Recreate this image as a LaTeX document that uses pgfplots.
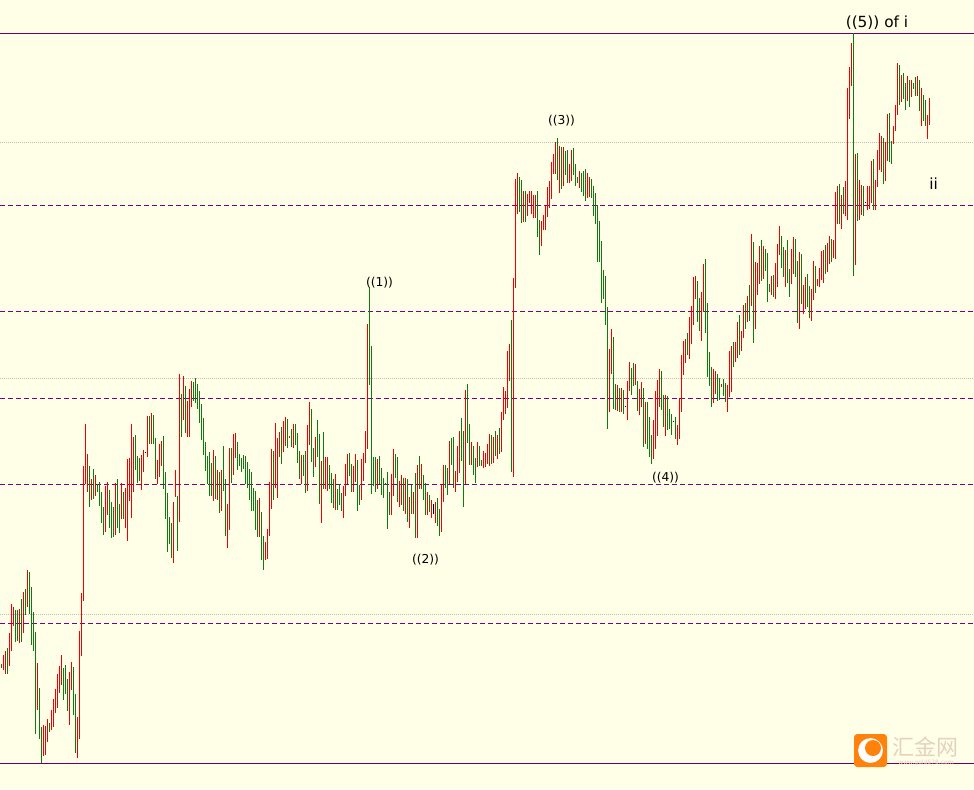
\documentclass[border=0pt]{standalone}
\usepackage{fontspec}
\setmainfont{DejaVu Sans}
\newfontfamily\cjk{Noto Sans CJK SC}
\usepackage{pgfplots}
\usepackage{pgfplotstable}
\pgfplotsset{compat=1.18}
\definecolor{chartbg}{RGB}{255,255,232}
\definecolor{upbar}{RGB}{238,0,0}
\definecolor{downbar}{RGB}{16,120,16}
\definecolor{levelline}{RGB}{128,0,128}
\definecolor{rangeline}{RGB}{110,0,100}
\definecolor{dotline}{RGB}{190,190,180}
\definecolor{logoorange}{RGB}{255,130,12}
\definecolor{logotext}{RGB}{226,210,190}
% x hi lo c, in picture pixels; c: 1 red, 2 green, 3 black
\pgfplotstableread[row sep=\\]{
x hi lo c\\
1.5 664 668 2\\ 3.5 655 670 1\\ 5.5 651 674 1\\ 7.5 648 674 2\\ 9.5 633 666 1\\
11.5 604 651 1\\ 13.5 607 626 1\\ 15.5 610 642 2\\ 17.5 610 641 2\\ 19.5 609 643 1\\
21.5 599 642 2\\ 23.5 592 633 1\\ 25.5 589 615 2\\ 27.5 570 607 1\\ 29.5 572 614 2\\
31.5 587 645 2\\ 33.5 612 651 2\\ 35.5 632 734 2\\ 37.5 663 710 1\\ 39.5 688 739 2\\
41.5 727 763 2\\ 43.5 725 756 1\\ 45.5 726 755 1\\ 47.5 719 742 1\\ 49.5 723 732 2\\
51.5 710 730 1\\ 53.5 699 727 1\\ 55.5 689 713 1\\ 57.5 674 708 1\\ 59.5 666 693 1\\
61.5 655 685 1\\ 63.5 668 700 2\\ 65.5 665 694 2\\ 67.5 679 711 2\\ 69.5 672 725 1\\
71.5 662 690 1\\ 73.5 667 715 2\\ 75.5 694 753 2\\ 77.5 717 758 1\\ 79.5 631 739 1\\
81.5 593 656 1\\ 83.5 466 601 1\\ 85.5 424 484 1\\ 87.5 454 492 1\\ 89.5 466 507 2\\
91.5 479 500 1\\ 93.5 469 499 2\\ 95.5 475 496 1\\ 97.5 484 492 2\\ 99.5 482 506 2\\
101.5 492 523 2\\ 103.5 507 535 2\\ 105.5 486 532 1\\ 107.5 482 515 1\\ 109.5 490 528 2\\
111.5 502 538 2\\ 113.5 507 537 2\\ 115.5 483 535 1\\ 117.5 479 528 2\\ 119.5 504 533 2\\
121.5 483 519 1\\ 123.5 492 519 2\\ 125.5 488 528 1\\ 127.5 459 541 1\\ 129.5 458 501 1\\
131.5 424 518 1\\ 133.5 437 492 1\\ 135.5 435 470 2\\ 137.5 456 483 2\\ 139.5 458 481 2\\
141.5 455 490 1\\ 143.5 450 472 1\\ 145.5 452 453 3\\ 147.5 416 457 1\\ 149.5 416 444 2\\
151.5 413 444 1\\ 153.5 415 444 2\\ 155.5 438 479 2\\ 157.5 460 484 1\\ 159.5 444 477 1\\
161.5 441 466 1\\ 163.5 436 489 2\\ 165.5 472 519 2\\ 167.5 493 552 2\\ 169.5 517 544 2\\
171.5 523 558 2\\ 173.5 502 563 1\\ 175.5 470 497 1\\ 177.5 496 551 2\\ 179.5 374 522 1\\
181.5 394 437 2\\ 183.5 376 420 1\\ 185.5 386 433 2\\ 187.5 401 437 1\\ 189.5 389 437 1\\
191.5 381 407 1\\ 193.5 382 401 2\\ 195.5 378 403 2\\ 197.5 384 409 2\\ 199.5 391 423 2\\
201.5 404 440 2\\ 203.5 418 455 2\\ 205.5 442 471 2\\ 207.5 456 484 2\\ 209.5 452 496 2\\
211.5 463 496 2\\ 213.5 450 501 1\\ 215.5 456 499 2\\ 217.5 470 500 1\\ 219.5 472 513 2\\
221.5 470 511 1\\ 223.5 446 491 2\\ 225.5 479 536 2\\ 227.5 504 548 1\\ 229.5 448 530 1\\
231.5 448 483 2\\ 233.5 434 475 1\\ 235.5 433 458 1\\ 237.5 442 470 2\\ 239.5 454 466 2\\
241.5 458 472 2\\ 243.5 455 469 2\\ 245.5 456 484 2\\ 247.5 462 488 2\\ 249.5 469 500 2\\
251.5 472 511 2\\ 253.5 488 511 2\\ 255.5 491 530 2\\ 257.5 500 537 2\\ 259.5 498 537 1\\
261.5 512 560 2\\ 263.5 536 570 2\\ 265.5 542 560 1\\ 267.5 529 559 1\\ 269.5 482 536 1\\
271.5 449 509 1\\ 273.5 451 500 2\\ 275.5 423 488 1\\ 277.5 438 498 1\\ 279.5 432 457 1\\
281.5 427 464 2\\ 283.5 421 452 1\\ 285.5 417 446 1\\ 287.5 419 448 2\\ 289.5 436 438 1\\
291.5 429 447 2\\ 293.5 424 448 1\\ 295.5 424 445 2\\ 297.5 433 463 2\\ 299.5 451 479 2\\
301.5 455 484 1\\ 303.5 455 476 2\\ 305.5 451 493 2\\ 307.5 425 491 1\\ 309.5 402 445 1\\
311.5 409 462 2\\ 313.5 448 477 2\\ 315.5 437 467 1\\ 317.5 420 457 2\\ 319.5 434 504 2\\
321.5 461 523 1\\ 323.5 432 489 2\\ 325.5 457 489 1\\ 327.5 457 491 1\\ 329.5 465 489 2\\
331.5 473 503 2\\ 333.5 479 508 2\\ 335.5 474 510 1\\ 337.5 489 510 2\\ 339.5 484 505 2\\
341.5 493 511 2\\ 343.5 486 518 1\\ 345.5 464 496 1\\ 347.5 454 484 1\\ 349.5 453 476 2\\
351.5 464 492 2\\ 353.5 466 492 1\\ 355.5 454 482 1\\ 357.5 460 511 2\\ 359.5 485 505 2\\
361.5 459 500 1\\ 363.5 453 481 1\\ 365.5 431 463 1\\ 367.5 324 449 1\\ 369.5 287 385 2\\
371.5 346 494 2\\ 373.5 457 486 2\\ 375.5 457 492 2\\ 377.5 459 489 1\\ 379.5 456 484 2\\
381.5 468 495 2\\ 383.5 478 498 2\\ 385.5 483 485 2\\ 387.5 472 529 2\\ 389.5 492 515 2\\
391.5 474 515 1\\ 393.5 449 496 1\\ 395.5 454 478 2\\ 397.5 457 502 2\\ 399.5 481 507 1\\
401.5 475 505 1\\ 403.5 478 511 2\\ 405.5 478 514 1\\ 407.5 479 522 2\\ 409.5 497 528 1\\
411.5 485 514 2\\ 413.5 492 514 1\\ 415.5 473 538 2\\ 417.5 465 538 1\\ 419.5 456 489 2\\
421.5 464 489 1\\ 423.5 475 500 2\\ 425.5 483 515 2\\ 427.5 492 515 1\\ 429.5 495 512 2\\
431.5 500 518 1\\ 433.5 504 514 3\\ 435.5 502 523 1\\ 437.5 498 526 2\\ 439.5 509 536 2\\
441.5 485 532 1\\ 443.5 465 502 1\\ 445.5 465 488 2\\ 447.5 468 495 2\\ 449.5 441 484 1\\
451.5 438 465 2\\ 453.5 437 488 2\\ 455.5 471 492 1\\ 457.5 446 482 1\\ 459.5 431 473 1\\
461.5 418 461 2\\ 463.5 431 507 2\\ 465.5 390 484 1\\ 467.5 384 443 2\\ 469.5 424 465 2\\
471.5 442 465 1\\ 473.5 446 475 2\\ 475.5 458 483 2\\ 477.5 442 467 1\\ 479.5 446 466 2\\
481.5 460 466 2\\ 483.5 451 468 1\\ 485.5 453 467 1\\ 487.5 444 464 1\\ 489.5 434 466 1\\
491.5 435 464 2\\ 493.5 437 463 1\\ 495.5 431 456 2\\ 497.5 435 459 1\\ 499.5 428 454 2\\
501.5 412 452 1\\ 503.5 387 420 1\\ 505.5 391 414 1\\ 507.5 351 408 1\\ 509.5 344 381 1\\
511.5 320 472 2\\ 513.5 278 477 1\\ 515.5 179 288 1\\ 517.5 173 214 1\\ 519.5 177 212 2\\
521.5 180 223 2\\ 523.5 191 222 1\\ 525.5 191 222 2\\ 527.5 194 216 1\\ 529.5 191 203 1\\
531.5 191 214 1\\ 533.5 195 218 1\\ 535.5 195 218 1\\ 537.5 191 237 2\\ 539.5 220 255 2\\
541.5 221 246 1\\ 543.5 215 230 1\\ 545.5 206 230 1\\ 547.5 187 217 1\\ 549.5 181 208 1\\
551.5 162 199 1\\ 553.5 154 174 1\\ 555.5 142 174 1\\ 557.5 138 180 2\\ 559.5 146 193 1\\
561.5 147 189 2\\ 563.5 147 186 1\\ 565.5 151 175 2\\ 567.5 150 183 2\\ 569.5 164 183 1\\
571.5 150 181 1\\ 573.5 148 175 2\\ 575.5 164 186 2\\ 577.5 177 183 2\\ 579.5 171 188 1\\
581.5 173 192 2\\ 583.5 171 196 2\\ 585.5 169 201 2\\ 587.5 173 198 1\\ 589.5 177 197 1\\
591.5 179 198 2\\ 593.5 186 216 2\\ 595.5 193 224 2\\ 597.5 205 262 2\\ 599.5 221 262 2\\
601.5 241 303 2\\ 603.5 270 299 2\\ 605.5 276 325 2\\ 607.5 307 429 2\\ 609.5 349 412 1\\
611.5 329 374 1\\ 613.5 337 409 2\\ 615.5 384 410 2\\ 617.5 385 411 1\\ 619.5 388 412 2\\
621.5 388 412 1\\ 623.5 390 414 2\\ 625.5 406 407 3\\ 627.5 381 420 1\\ 629.5 362 391 1\\
631.5 368 395 2\\ 633.5 363 386 2\\ 635.5 364 385 1\\ 637.5 381 411 2\\ 639.5 389 415 1\\
641.5 382 407 1\\ 643.5 388 447 2\\ 645.5 402 444 1\\ 647.5 402 449 2\\ 649.5 417 457 2\\
651.5 435 464 2\\ 653.5 420 459 1\\ 655.5 391 449 1\\ 657.5 380 436 1\\ 659.5 369 407 1\\
661.5 371 410 2\\ 663.5 395 427 2\\ 665.5 395 436 1\\ 667.5 396 430 2\\ 669.5 409 429 2\\
671.5 414 435 2\\ 673.5 421 422 3\\ 675.5 417 439 2\\ 677.5 425 445 1\\ 679.5 398 439 1\\
681.5 355 412 1\\ 683.5 341 375 1\\ 685.5 339 363 1\\ 687.5 333 355 2\\ 689.5 317 359 1\\
691.5 306 344 1\\ 693.5 277 325 1\\ 695.5 276 299 1\\ 697.5 281 322 2\\ 699.5 298 331 2\\
701.5 292 341 1\\ 703.5 264 312 1\\ 705.5 259 333 2\\ 707.5 303 377 2\\ 709.5 352 386 2\\
711.5 367 407 2\\ 713.5 369 403 1\\ 715.5 371 394 1\\ 717.5 374 401 2\\ 719.5 378 400 2\\
721.5 384 387 1\\ 723.5 379 396 2\\ 725.5 383 402 2\\ 727.5 385 412 1\\ 729.5 351 397 1\\
731.5 346 392 1\\ 733.5 342 367 2\\ 735.5 342 362 1\\ 737.5 322 358 1\\ 739.5 315 355 2\\
741.5 331 351 1\\ 743.5 305 338 1\\ 745.5 303 329 2\\ 747.5 296 322 1\\ 749.5 285 321 2\\
751.5 234 306 1\\ 753.5 242 343 2\\ 755.5 262 329 1\\ 757.5 263 295 1\\ 759.5 246 284 1\\
761.5 240 281 2\\ 763.5 246 279 1\\ 765.5 249 271 2\\ 767.5 253 302 2\\ 769.5 284 292 2\\
771.5 276 295 1\\ 773.5 275 297 2\\ 775.5 263 299 1\\ 777.5 244 287 1\\ 779.5 226 255 1\\
781.5 236 268 2\\ 783.5 247 277 2\\ 785.5 250 287 1\\ 787.5 240 283 2\\ 789.5 269 297 2\\
791.5 249 284 1\\ 793.5 237 274 1\\ 795.5 239 277 2\\ 797.5 261 323 2\\ 799.5 252 329 1\\
801.5 254 304 2\\ 803.5 285 314 1\\ 805.5 277 309 1\\ 807.5 274 307 2\\ 809.5 286 318 2\\
811.5 289 321 1\\ 813.5 261 300 1\\ 815.5 266 293 2\\ 817.5 279 286 1\\ 819.5 268 287 1\\
821.5 251 280 1\\ 823.5 250 283 1\\ 825.5 245 274 2\\ 827.5 243 272 1\\ 829.5 236 264 1\\
831.5 239 262 2\\ 833.5 240 258 1\\ 835.5 192 259 1\\ 837.5 186 224 1\\ 839.5 184 224 2\\
841.5 195 229 1\\ 843.5 187 214 2\\ 845.5 181 216 1\\ 847.5 88 220 1\\ 849.5 67 119 1\\
851.5 43 86 1\\ 853.5 33 276 2\\ 855.5 154 265 1\\ 857.5 153 221 2\\ 859.5 180 220 1\\
861.5 185 215 1\\ 863.5 186 216 2\\ 865.5 202 203 3\\ 867.5 186 210 1\\ 869.5 186 209 1\\
871.5 161 203 1\\ 873.5 159 210 2\\ 875.5 180 210 1\\ 877.5 150 187 1\\ 879.5 133 170 1\\
881.5 136 172 1\\ 883.5 138 184 2\\ 885.5 142 181 1\\ 887.5 114 161 1\\ 889.5 113 162 2\\
891.5 141 164 2\\ 893.5 126 144 1\\ 895.5 105 131 1\\ 897.5 63 115 1\\ 899.5 65 105 2\\
901.5 75 102 1\\ 903.5 73 99 2\\ 905.5 83 110 2\\ 907.5 76 101 1\\ 909.5 80 107 2\\
911.5 80 97 1\\ 913.5 83 89 2\\ 915.5 77 96 2\\ 917.5 76 96 1\\ 919.5 80 111 2\\
921.5 88 126 1\\ 923.5 95 121 2\\ 925.5 100 126 2\\ 927.5 115 139 1\\ 929.5 98 125 1\\
}\bars

\pgfplotsset{
  hilo/.style={
    draw=none, mark=none, forget plot,
    error bars/y dir=plus, error bars/y explicit, error bars/error mark=none,
    error bars/error bar style={draw=#1, line width=0.75pt, solid, line cap=butt},
  },
  level/.style={levelline, line width=0.75pt, dash pattern=on 4pt off 2pt, forget plot},
  range/.style={rangeline, line width=0.75pt, forget plot},
  grey/.style={dotline, line width=0.75pt, dash pattern=on 0.75pt off 0.75pt, forget plot},
}

\begin{document}
\begin{tikzpicture}
\begin{axis}[
    scale only axis, width=730.5pt, height=591.75pt,
    xmin=0, xmax=974, ymin=0, ymax=789, y dir=reverse,
    ticks=none, axis line style={draw=none},
    axis background/.style={fill=chartbg},
]
\addplot[grey] coordinates {(0,142.5)(974,142.5)};
\addplot[grey] coordinates {(0,378.5)(974,378.5)};
\addplot[grey] coordinates {(0,614.5)(974,614.5)};
\addplot[level] coordinates {(0,205.5)(974,205.5)};
\addplot[level] coordinates {(0,311.5)(974,311.5)};
\addplot[level] coordinates {(0,398.5)(974,398.5)};
\addplot[level] coordinates {(0,484.5)(974,484.5)};
\addplot[level] coordinates {(0,623.5)(974,623.5)};
\addplot[range] coordinates {(0,33.5)(974,33.5)};
\addplot[range] coordinates {(0,763.5)(974,763.5)};

\addplot[hilo=upbar, restrict expr to domain={\thisrow{c}}{1:1}] table[x=x, y=hi, y error expr=\thisrow{lo}-\thisrow{hi}] {\bars};
\addplot[hilo=downbar, restrict expr to domain={\thisrow{c}}{2:2}] table[x=x, y=hi, y error expr=\thisrow{lo}-\thisrow{hi}] {\bars};
\addplot[hilo=black, restrict expr to domain={\thisrow{c}}{3:3}] table[x=x, y=hi, y error expr=\thisrow{lo}-\thisrow{hi}] {\bars};

\node[font=\fontsize{9.2}{10}\selectfont] at (axis cs:379.5,283) {((1))};
\node[font=\fontsize{9.2}{10}\selectfont] at (axis cs:425.5,560) {((2))};
\node[font=\fontsize{9.2}{10}\selectfont] at (axis cs:561.5,121) {((3))};
\node[font=\fontsize{9.2}{10}\selectfont] at (axis cs:665.5,478) {((4))};
\node[font=\fontsize{11.5}{13}\selectfont] at (axis cs:877,23) {((5)) of i};
\node[font=\fontsize{11.5}{13}\selectfont] at (axis cs:933.5,184) {ii};

% logo
\fill[logoorange, rounded corners=2.5pt] (axis cs:854,734) rectangle (axis cs:887,767);
\fill[white] (axis cs:870.5,750.5) circle[radius=9.3pt];
\fill[logoorange] (axis cs:873,748) circle[radius=6pt];
\node[logotext, font=\cjk\fontsize{16.5}{17}\selectfont, anchor=center] at (axis cs:925.5,747) {汇金网};
\node[logotext, font=\fontsize{4.5}{5}\selectfont, anchor=center] at (axis cs:926,762.5) {www.gold678.com};
\end{axis}
\end{tikzpicture}
\end{document}
